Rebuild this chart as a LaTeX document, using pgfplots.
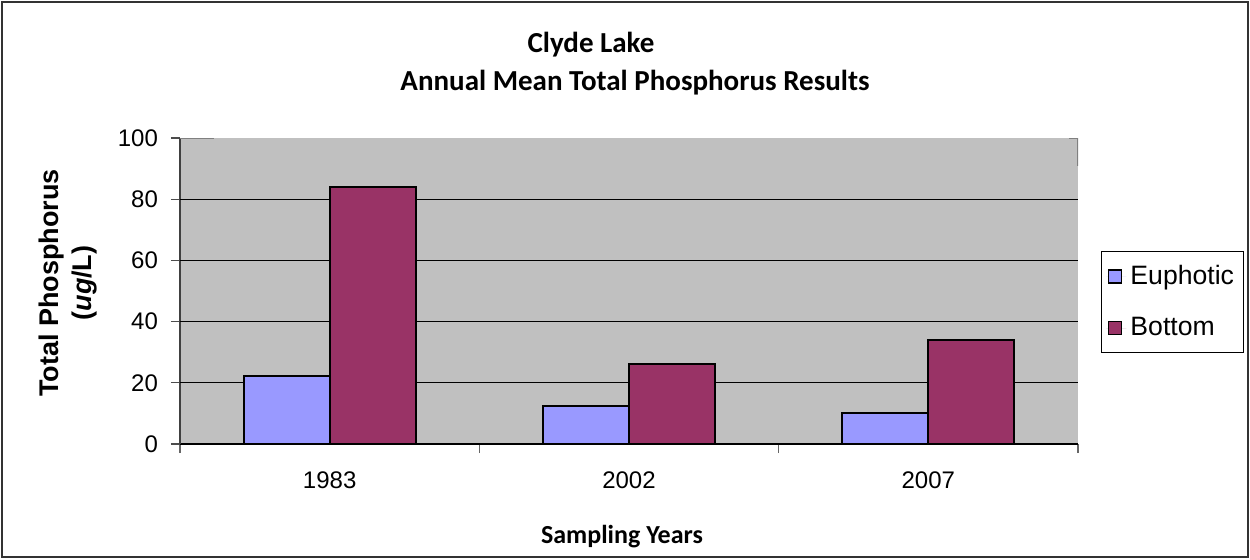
\documentclass[border=0pt]{standalone}
\usepackage{fontspec}
\setmainfont{Liberation Sans}
\newfontfamily\calibri{Carlito}
\usepackage{pgfplots}
\pgfplotsset{compat=1.18}
\definecolor{plotbg}{RGB}{192,192,192}
\definecolor{euph}{RGB}{153,153,255}
\definecolor{bott}{RGB}{153,51,102}

\begin{document}
\begin{tikzpicture}[x=0.5pt,y=0.5pt]
\useasboundingbox (0,0) rectangle (1250,559);
\draw[black!80, line width=0.6pt] (2,2) rectangle (1248,557);
\begin{axis}[
  at={(90pt,57.5pt)}, anchor=south west,
  width=449pt, height=153pt, scale only axis,
  xmin=-0.5, xmax=2.5, ymin=0, ymax=100,
  ybar=0pt, bar width=43pt,
  axis lines*=left,
  axis background/.style={fill=plotbg},
  y axis line style={black!75, line width=0.9pt},
  x axis line style={black, line width=0.8pt},
  tick align=outside,
  ytick={0,20,40,60,80,100},
  ytick style={black!70, line width=0.6pt},
  major tick length=4.5pt,
  xtick={-0.5,0.5,1.5,2.5}, xticklabels={},
  xtick style={black!60, line width=0.6pt},
  extra x ticks={0,1,2}, extra x tick labels={1983,2002,2007},
  extra x tick style={major tick length=0pt, xticklabel style={yshift=-10.5pt}},
  extra y ticks={20,40,60,80}, extra y tick labels={},
  extra y tick style={grid=major, major tick length=0pt},
  major grid style={black, line width=0.5pt},
  tick label style={font=\fontsize{12}{14}\selectfont},
  /pgf/number format/assume math mode=true,
  yticklabel style={xshift=-3pt},
  legend style={at={(axis description cs:1.0256,0.631)}, anchor=north west,
    draw=black, line width=0.5pt, fill=white,
    font=\fontsize{13.3}{15}\selectfont,
    row sep=11pt, inner xsep=2.5pt, inner ysep=5pt},
  legend cell align=left,
  legend image code/.code={\path[draw=none] (-1pt,0pt) -- (9pt,0pt);
    \draw[#1, line width=0.6pt] (0pt,-3.25pt) rectangle (6.5pt,3.25pt);},
]
\addplot[fill=euph, draw=black, line width=1pt] coordinates {(0,22.2)(1,12.3)(2,10.1)};
\addplot[fill=bott, draw=black, line width=1pt] coordinates {(0,83.9)(1,26.2)(2,33.9)};
\legend{Euphotic,Bottom}
\draw[black!50, line width=0.9pt] (axis cs:-0.5,100) -- (axis cs:-0.385,100);
\draw[black!50, line width=0.9pt] (axis cs:2.47,100) -- (axis cs:2.5,100) -- (axis cs:2.5,91);
\end{axis}
\node[font=\calibri\bfseries\fontsize{14.5}{17}\selectfont] at (591,514) {Clyde Lake};
\node[font=\calibri\bfseries\fontsize{14.5}{17}\selectfont] at (635,476) {Annual Mean Total Phosphorus Results};
\node[font=\calibri\bfseries\fontsize{13}{15}\selectfont] at (622,22) {Sampling Years};
\node[font=\bfseries\fontsize{13.5}{16.5}\selectfont, rotate=90, align=center] at (68,276) {Total Phosphorus\\(\textit{ug}/L)};
\end{tikzpicture}
\end{document}
